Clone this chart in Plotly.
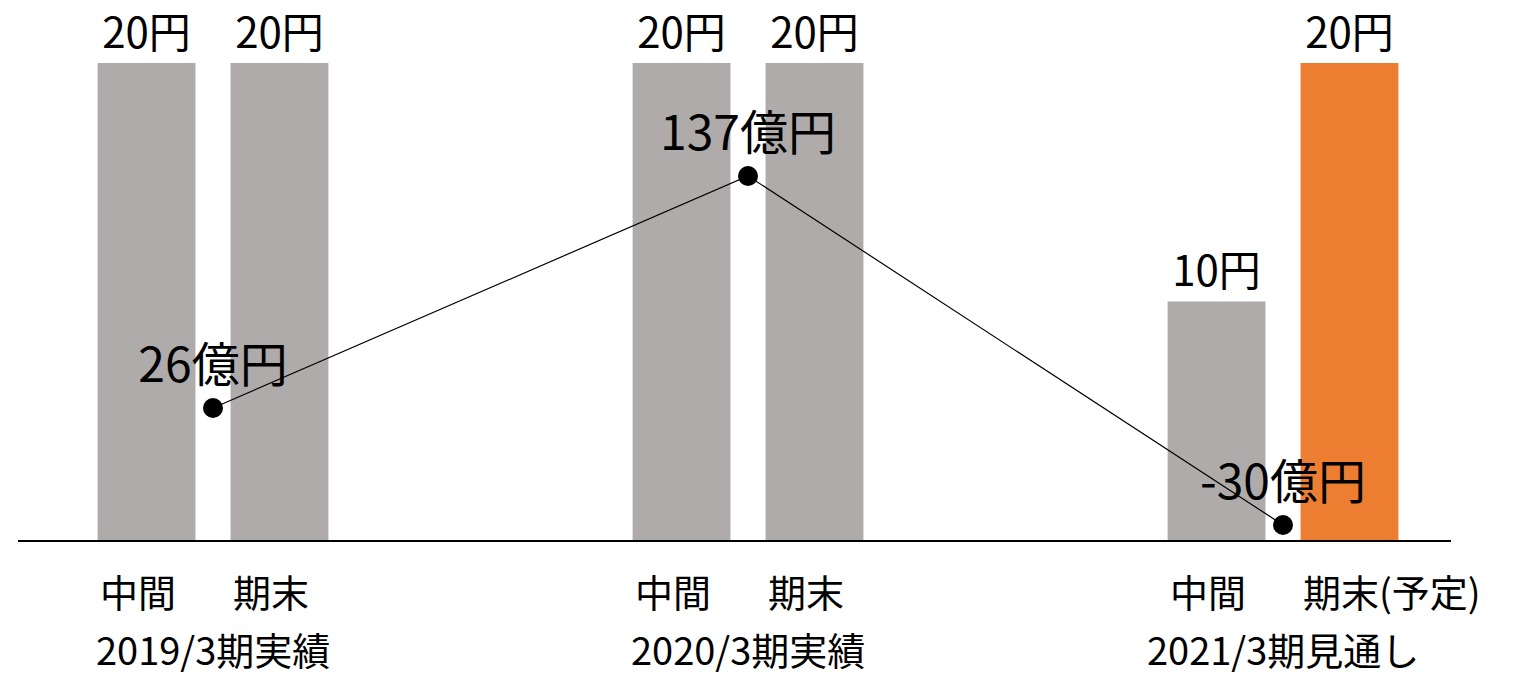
import plotly.graph_objects as go

# ---- data ----
groups = ["2019/3期実績", "2020/3期実績", "2021/3期見通し"]
interim_dividend = [20, 20, 10]          # 中間 (円)
yearend_dividend = [20, 20, 20]          # 期末 (円)
interim_names = ["中間", "中間", "中間"]
yearend_names = ["期末", "期末", "期末(予定)"]
net_income = [26, 137, -30]              # 億円

GRAY = "#AEABAA"
ORANGE = "#ED7D31"
FONT = "Noto Sans CJK JP"

x = list(range(len(groups)))

fig = go.Figure()

fig.add_trace(go.Bar(
    x=x, y=interim_dividend, name="中間",
    marker=dict(color=GRAY, line=dict(width=0)),
    text=[f"{v}円" for v in interim_dividend], textposition="outside",
    textfont=dict(size=42, color="black", family=FONT),
    cliponaxis=False,
))
fig.add_trace(go.Bar(
    x=x, y=yearend_dividend, name="期末",
    marker=dict(color=[GRAY, GRAY, ORANGE], line=dict(width=0)),
    text=[f"{v}円" for v in yearend_dividend], textposition="outside",
    textfont=dict(size=42, color="black", family=FONT),
    cliponaxis=False,
))
fig.add_trace(go.Scatter(
    x=x, y=net_income, yaxis="y2", mode="lines+markers+text",
    line=dict(color="black", width=1.2),
    marker=dict(color="black", size=20),
    text=[f"{v}億円" for v in net_income], textposition="top center",
    textfont=dict(size=48, color="black", family=FONT),
    cliponaxis=False,
))

bargap = 0.503
bargroupgap = 0.264
slot = (1 - bargap) / 2
annotations = []
for i in x:
    for j, names in enumerate([interim_names, yearend_names]):
        left = i - (1 - bargap) / 2 + j * slot + slot * bargroupgap / 2
        annotations.append(dict(
            x=left, xref="x", y=0, yref="paper", xanchor="left", yanchor="middle",
            yshift=-50, text=names[i], showarrow=False,
            font=dict(size=38, color="black", family=FONT),
        ))
    annotations.append(dict(
        x=i, xref="x", y=0, yref="paper", xanchor="center", yanchor="middle",
        yshift=-108, text=groups[i], showarrow=False,
        font=dict(size=38, color="black", family=FONT),
    ))

fig.update_layout(
    width=1514, height=679,
    margin=dict(l=18, r=63, t=10, b=139),
    plot_bgcolor="white", paper_bgcolor="white",
    barmode="group", bargap=bargap, bargroupgap=bargroupgap,
    showlegend=False,
    font=dict(family=FONT, color="black"),
    xaxis=dict(range=[-0.3645, 2.314], showticklabels=False, showgrid=False,
               zeroline=False, showline=True, linecolor="black", linewidth=1.5, ticks=""),
    yaxis=dict(range=[0, 22.22], visible=False, showgrid=False, zeroline=False),
    yaxis2=dict(range=[-37.18, 216.4], overlaying="y", visible=False,
                showgrid=False, zeroline=False),
    annotations=annotations,
)

fig.write_html("out.html")
